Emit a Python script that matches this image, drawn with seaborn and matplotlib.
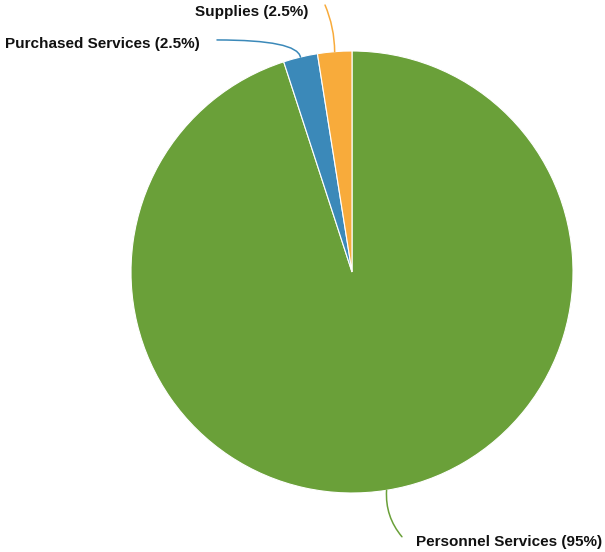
import numpy as np
import matplotlib
matplotlib.use("Agg")
import matplotlib.pyplot as plt
import seaborn as sns

# ===== data =====
categories = ["Personnel Services", "Purchased Services", "Supplies"]
shares = [95, 2.5, 2.5]
labels = ["Personnel Services (95%)", "Purchased Services (2.5%)", "Supplies (2.5%)"]
colors = ["#6aa039", "#3b89b9", "#f8ab3b"]

sns.set_theme(style="white")
plt.rcParams["font.family"] = ["Liberation Sans", "DejaVu Sans"]

fig = plt.figure(figsize=(6.05, 5.52), dpi=100)
ax = fig.add_axes([0, 0, 1, 1])

wedges, _ = ax.pie(shares, colors=colors, startangle=90, counterclock=False,
                   radius=1, center=(0, 0),
                   wedgeprops=dict(edgecolor="white", linewidth=0.8))

# pixel-matched limits: center (352, 272), radius 221 px
r = 221.0
ax.set_xlim(-352 / r, (605 - 352) / r)
ax.set_ylim(-(552 - 272) / r, 272 / r)
ax.set_aspect("equal")
ax.axis("off")

# label layout: (line end, text pos, ha, connection style)
layout = {
    "Personnel Services": ((0.226, -1.198), (0.290, -1.222), "left", "arc3,rad=-0.2"),
    "Purchased Services": ((-0.611, 1.050), (-0.688, 1.032), "right", "angle3,angleA=0,angleB=100"),
    "Supplies": ((-0.122, 1.208), (-0.199, 1.176), "right", "arc3,rad=-0.1"),
}

for w, cat, lab, col in zip(wedges, categories, labels, colors):
    ang = np.deg2rad((w.theta1 + w.theta2) / 2)
    px, py = np.cos(ang), np.sin(ang)
    end, tpos, ha, cs = layout[cat]
    ax.annotate("", xy=(px, py), xytext=end,
                arrowprops=dict(arrowstyle="-", color=col, lw=1.1,
                                connectionstyle=cs, shrinkA=0, shrinkB=0))
    ax.text(tpos[0], tpos[1], lab, ha=ha, va="center", fontsize=11,
            fontweight="bold", color="#111111")

fig.savefig("out.png", dpi=100)
